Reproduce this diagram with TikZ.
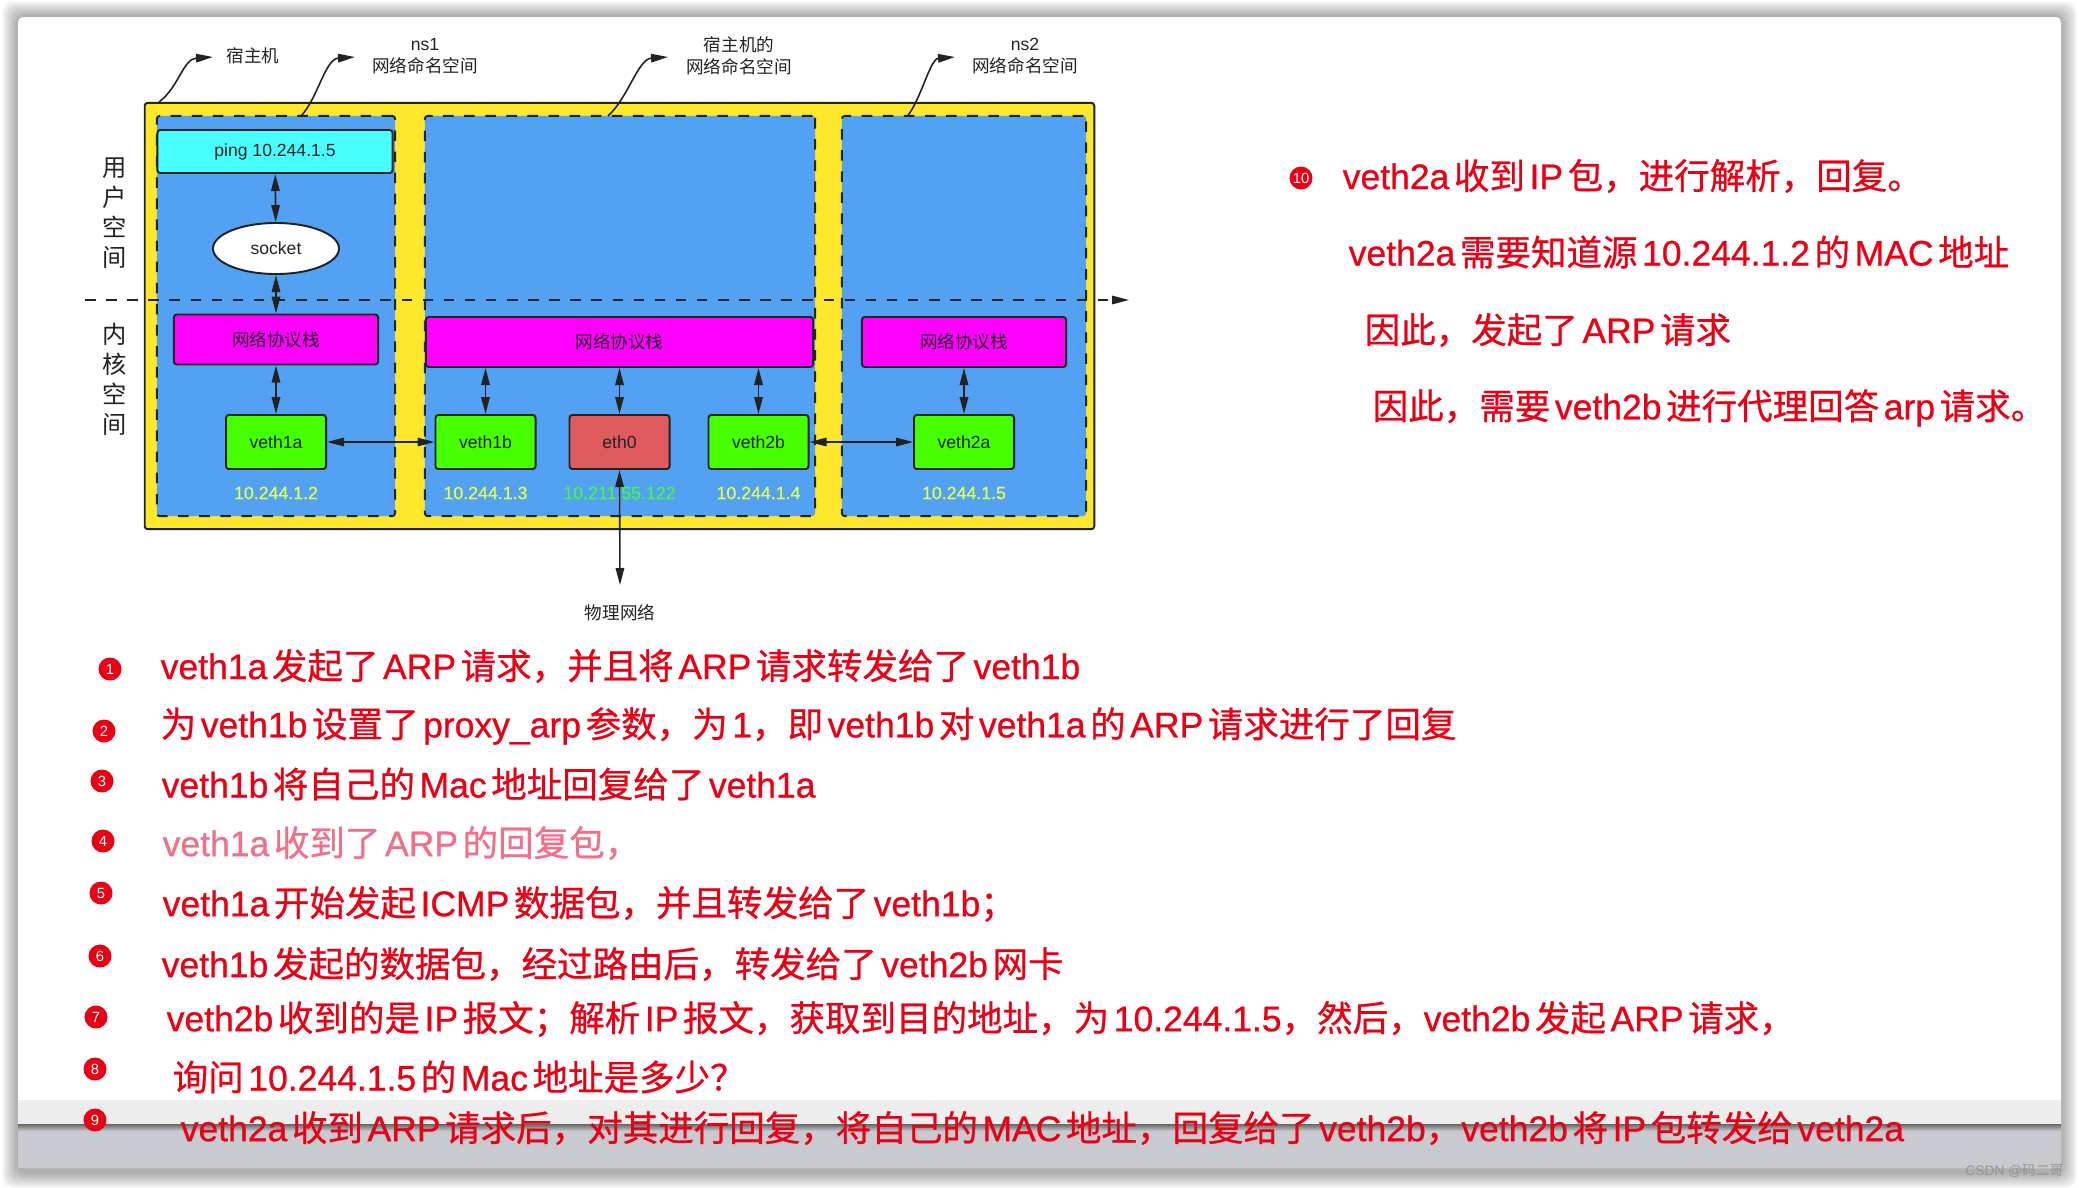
\documentclass[tikz,border=0pt]{standalone}
\usepackage{fontspec}
\setmainfont{Liberation Sans}
\newfontfamily\cjk{Noto Sans CJK SC}
\newfontfamily\redlat[FakeBold=0.7]{Liberation Sans}
\newfontfamily\redcjk[FakeBold=0.7]{Noto Sans CJK SC}
\newfontfamily\iplat[FakeBold=0.4]{Liberation Sans}
\usetikzlibrary{arrows.meta,shapes.geometric}
\definecolor{inkdark}{HTML}{222222}
\definecolor{hostyellow}{HTML}{FFE82C}
\definecolor{nsblue}{HTML}{53A1F2}
\definecolor{pingcyan}{HTML}{47FFFF}
\definecolor{stackpink}{HTML}{FF00FF}
\definecolor{vethgreen}{HTML}{46FF00}
\definecolor{ethred}{HTML}{DF5B60}
\definecolor{ipyellow}{HTML}{E7FF4D}
\definecolor{ipgreen}{HTML}{47F54D}
\definecolor{notered}{HTML}{E90014}
\definecolor{notefade}{HTML}{F0708A}
\definecolor{bandgray}{HTML}{C9CACF}
\newcommand{\zh}[1]{{\redcjk #1}}
\newcommand{\notefont}{\fontsize{10.1}{12}\selectfont\redlat\spaceskip=1.3pt\relax}
\tikzset{
        boxnode/.style = {align=center, inner sep=0pt, text centered, draw=inkdark,
            line width=0.55pt, rounded corners=0.8pt, text=inkdark, font=\fontsize{5}{6}\selectfont},
        host_n/.style = {boxnode, fill=hostyellow, minimum width=9.49cm, minimum height=4.26cm},
        ns_n/.style = {boxnode, fill=nsblue, dashed, minimum height=4cm},
        ping_n/.style = {boxnode, fill=pingcyan, minimum width=2.35cm, minimum height=0.43cm},
        sock_n/.style = {boxnode, ellipse, fill=white, minimum width=1.26cm, minimum height=0.51cm},
        stack_n/.style = {boxnode, fill=stackpink, minimum width=2.04cm, minimum height=0.5cm},
        veth_n/.style = {boxnode, fill=vethgreen, minimum width=1cm, minimum height=0.54cm},
        eth_n/.style = {veth_n, fill=ethred},
        ip_n/.style = {inner sep=0pt, text=ipyellow, font=\fontsize{5.05}{6}\selectfont\iplat},
        cap_n/.style = {inner sep=0pt, align=center, text=inkdark, font=\fontsize{5}{6.3}\selectfont},
        side_n/.style = {inner sep=0pt, text=inkdark, font=\fontsize{6.9}{8.5}\selectfont\cjk, align=center},
        note_n/.style = {inner sep=0pt, anchor=west, text=notered, font=\notefont},
        num_n/.style = {circle, fill=notered, text=white, inner sep=0pt, minimum size=0.23cm,
            font=\fontsize{4.2}{5}\selectfont}
    }

\begin{document}
\begin{tikzpicture}[x=0.01cm,y=-0.01cm,>={Stealth[length=1.7mm,width=0.85mm,inset=0pt]}]
    \useasboundingbox (0,0) rectangle (2079,1187);
    % window with its soft shadow
    \foreach \s in {16,15,...,1}
        \fill[black,opacity=0.022,rounded corners=3pt] (18-\s,17-\s) rectangle (2061+\s,1168+\s+4);
    \fill[white,rounded corners=1.5pt] (18,17) rectangle (2061,1168);
    \fill[black!7] (18,1100) rectangle (2061,1124);
    \fill[bandgray] (18,1124) rectangle (2061,1168);
    \shade[top color=black!60,bottom color=bandgray] (18,1124) rectangle (2061,1131);

    % the host and its namespaces
    \node [host_n] (host) at (619.5,316) {};
    \node [ns_n, minimum width=2.38cm] (ns_1) at (276,316) {};
    \node [ns_n, minimum width=3.9cm] (ns_0) at (620,316) {};
    \node [ns_n, minimum width=2.44cm] (ns_2) at (964,316) {};

    \node [ping_n] (ping) at (275,151.5) {ping 10.244.1.5};
    \node [sock_n] (socket) at (276,248.5) {socket};

    \node [stack_n] (stack_1) at (276,339.5) {\cjk 网络协议栈};
    \node [stack_n, minimum width=3.87cm] (stack_0) at (619.5,342) {\cjk 网络协议栈};
    \node [stack_n] (stack_2) at (964,342) {\cjk 网络协议栈};

    \node [veth_n] (veth_1a) at (276,442) {veth1a};
    \node [veth_n] (veth_1b) at (485.5,442) {veth1b};
    \node [eth_n] (eth_0) at (619.5,442) {eth0};
    \node [veth_n] (veth_2b) at (758.5,442) {veth2b};
    \node [veth_n] (veth_2a) at (964,442) {veth2a};

    \node [ip_n] (ip_1a) at (276,493) {10.244.1.2};
    \node [ip_n] (ip_1b) at (485.5,493) {10.244.1.3};
    \node [ip_n, text=ipgreen] (ip_0) at (619.5,493) {10.211.55.122};
    \node [ip_n] (ip_2b) at (758.5,493) {10.244.1.4};
    \node [ip_n] (ip_2a) at (964,493) {10.244.1.5};

    % captions
    \node [cap_n] (cap_host) at (253,56) {\cjk 宿主机};
    \node [cap_n] (cap_ns1) at (425,56) {ns1\\\cjk 网络命名空间};
    \node [cap_n] (cap_ns0) at (739,56) {\cjk 宿主机的\\\cjk 网络命名空间};
    \node [cap_n] (cap_ns2) at (1025,56) {ns2\\\cjk 网络命名空间};
    \node [side_n] (side_user) at (115,213) {用\\户\\空\\间};
    \node [side_n] (side_kern) at (115,379) {内\\核\\空\\间};
    \node [cap_n] (phys) at (620,613) {\cjk 物理网络};

    \coordinate (host_t) at (159,102);
    \coordinate (host_a) at (213,57);
    \coordinate (ns1_t) at (301,116);
    \coordinate (ns1_a) at (355,57);
    \coordinate (ns0_t) at (608,116);
    \coordinate (ns0_a) at (668,57);
    \coordinate (ns2_t) at (907.5,116);
    \coordinate (ns2_a) at (955,57);
    \coordinate (split_l) at (85,300);
    \coordinate (split_r) at (1129,300);
    \coordinate (phys_end) at (620,585);

    \draw [->,inkdark,line width=0.45pt] (host_t) .. controls +(20,-15) and +(-30,2) .. (host_a);
    \draw [->,inkdark,line width=0.45pt] (ns1_t) .. controls +(17,-18) and +(-30,2) .. (ns1_a);
    \draw [->,inkdark,line width=0.45pt] (ns0_t) .. controls +(20,-18) and +(-30,2) .. (ns0_a);
    \draw [->,inkdark,line width=0.45pt] (ns2_t) .. controls +(14,-18) and +(-25,2) .. (ns2_a);
    \draw [->,dashed,inkdark,line width=0.45pt] (split_l) -- (split_r);

    \begin{scope}[<->,inkdark,line width=0.45pt]
        \draw (ping) -- (socket);
        \draw (socket) -- (stack_1);
        \draw (stack_1) -- (veth_1a);
        \draw (stack_2) -- (veth_2a);
        \draw (veth_1b) -- (veth_1b |- stack_0.south);
        \draw (eth_0) -- (eth_0 |- stack_0.south);
        \draw (veth_2b) -- (veth_2b |- stack_0.south);
        \draw (veth_1a) -- (veth_1b);
        \draw (veth_2b) -- (veth_2a);
        \draw (eth_0.south) -- (phys_end);
    \end{scope}

    % the notes
    \node [num_n] (num_1) at (110,669) {1};
    \node [num_n] (num_2) at (104,731) {2};
    \node [num_n] (num_3) at (102,781) {3};
    \node [num_n] (num_4) at (103,841) {4};
    \node [num_n] (num_5) at (101,893) {5};
    \node [num_n] (num_6) at (100,956) {6};
    \node [num_n] (num_7) at (96,1017) {7};
    \node [num_n] (num_8) at (95,1069) {8};
    \node [num_n] (num_9) at (95,1120) {9};
    \node [num_n] (num_10) at (1301,178) {10};

    \node [note_n] (note_1) at (160,666) {veth1a \zh{发起了} ARP \zh{请求，并且将} ARP \zh{请求转发给了} veth1b};
    \node [note_n] (note_2) at (160,726) {\zh{为} veth1b \zh{设置了} proxy\_arp \zh{参数，为} 1\zh{，即} veth1b \zh{对} veth1a \zh{的} ARP \zh{请求进行了回复}};
    \node [note_n] (note_3) at (161,784) {veth1b \zh{将自己的} Mac \zh{地址回复给了} veth1a};
    \node [note_n, text=notefade] (note_4) at (162,843) {veth1a \zh{收到了} ARP \zh{的回复包，}};
    \node [note_n] (note_5) at (162,904) {veth1a \zh{开始发起} ICMP \zh{数据包，并且转发给了} veth1b\zh{；}};
    \node [note_n] (note_6) at (161,964) {veth1b \zh{发起的数据包，经过路由后，转发给了} veth2b \zh{网卡}};
    \node [note_n] (note_7) at (166,1019) {veth2b \zh{收到的是} IP \zh{报文；解析} IP \zh{报文，获取到目的地址，为} 10.244.1.5\zh{，然后，}veth2b \zh{发起} ARP \zh{请求，}};
    \node [note_n] (note_8) at (172,1077) {\zh{询问} 10.244.1.5 \zh{的} Mac \zh{地址是多少？}};
    \node [note_n] (note_9) at (180,1128) {veth2a \zh{收到} ARP \zh{请求后，对其进行回复，将自己的} MAC \zh{地址，回复给了} veth2b\zh{，}veth2b \zh{将} IP \zh{包转发给} veth2a};
    \node [note_n] (note_10) at (1342,176) {veth2a \zh{收到} IP \zh{包，进行解析，回复。}};
    \node [note_n] (note_11) at (1348,252) {veth2a \zh{需要知道源} 10.244.1.2 \zh{的} MAC \zh{地址}};
    \node [note_n] (note_12) at (1364,330) {\zh{因此，发起了} ARP \zh{请求}};
    \node [note_n] (note_13) at (1372,408) {\zh{因此，需要} veth2b \zh{进行代理回答} arp \zh{请求。}};

    \node [inner sep=0pt, anchor=east, text=black!42, font=\fontsize{3.9}{5}\selectfont] (mark) at (2064,1171) {CSDN @\cjk 码二哥};
\end{tikzpicture}
\end{document}
